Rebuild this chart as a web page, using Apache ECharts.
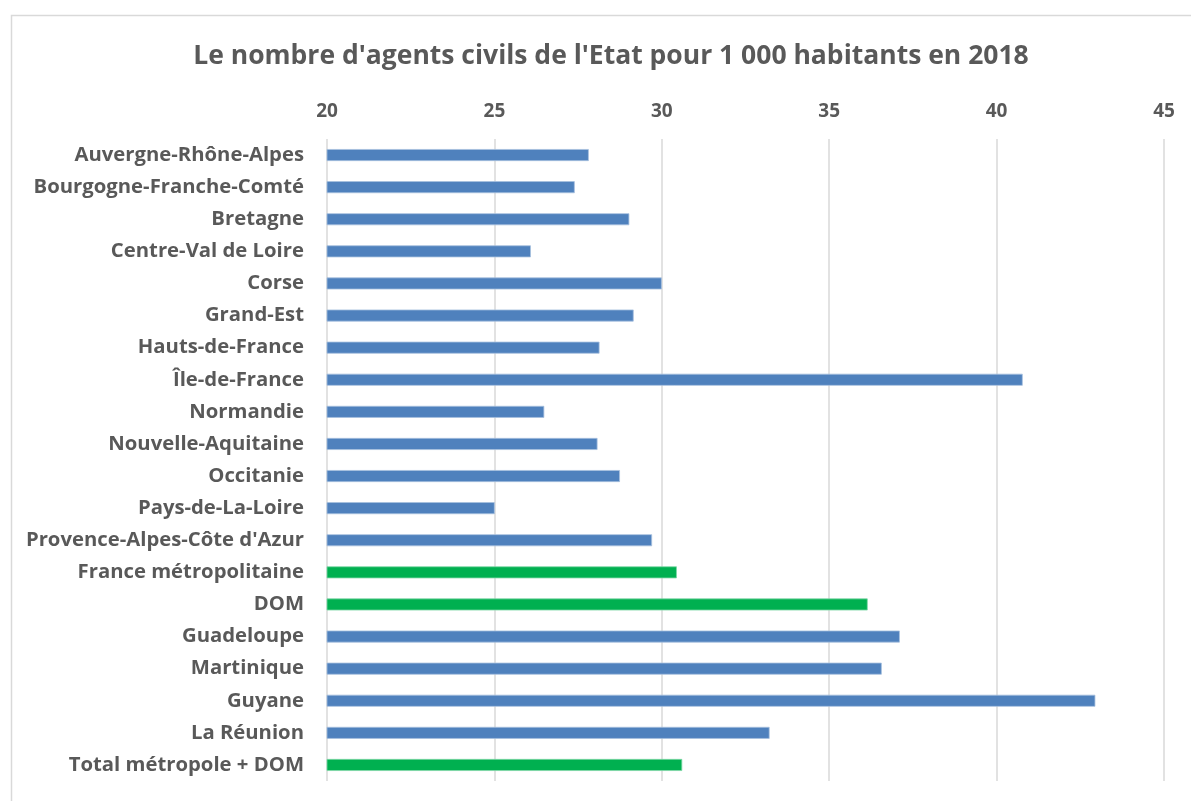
<!DOCTYPE html>
<html>
<head>
<meta charset="utf-8">
<script src="https://cdn.jsdelivr.net/npm/echarts@6/dist/echarts.min.js"></script>
<style>
html,body{margin:0;padding:0;background:#fff;}
#chart{width:1191px;height:801px;}
</style>
</head>
<body>
<div id="chart"></div>
<script>
const titleText = "Le nombre d'agents civils de l'Etat pour 1 000 habitants en 2018";
const categories = [
  "Auvergne-Rhône-Alpes", "Bourgogne-Franche-Comté", "Bretagne", "Centre-Val de Loire",
  "Corse", "Grand-Est", "Hauts-de-France", "Île-de-France", "Normandie",
  "Nouvelle-Aquitaine", "Occitanie", "Pays-de-La-Loire", "Provence-Alpes-Côte d'Azur",
  "France métropolitaine", "DOM", "Guadeloupe", "Martinique", "Guyane", "La Réunion",
  "Total métropole + DOM"
];
const values = [
  27.82, 27.40, 29.03, 26.09,
  30.00, 29.16, 28.14, 40.78, 26.49,
  28.08, 28.75, 25.01, 29.71,
  30.45, 36.15, 37.11, 36.57, 42.95, 33.22,
  30.61
];
const aggregateCategories = ["France métropolitaine", "DOM", "Total métropole + DOM"];
const axisMin = 20, axisMax = 45, axisStep = 5;

const BLUE = '#4F81BD', GREEN = '#00B050', TEXT = '#595959';
const FONT = '"Open Sans", "DejaVu Sans", sans-serif';

const chart = echarts.init(document.getElementById('chart'), null, {renderer: 'canvas'});
const seriesData = categories.map((c, i) => ({
  value: values[i],
  itemStyle: {
    color: aggregateCategories.includes(c) ? GREEN : BLUE,
    borderColor: aggregateCategories.includes(c) ? '#7fd8a7' : '#a7c0de',
    borderWidth: 0.8
  }
}));

chart.setOption({
  animation: false,
  backgroundColor: '#fff',
  graphic: [{
    type: 'rect', left: 9, top: 13,
    shape: {width: 1200, height: 800},
    style: {fill: 'none', stroke: '#d9d9d9', lineWidth: 1.5},
    silent: true, z: -1
  }],
  title: {
    text: titleText,
    left: 606, top: 38, textAlign: 'center',
    textStyle: {color: TEXT, fontFamily: FONT, fontWeight: 'bold', fontSize: 26.5}
  },
  grid: {left: 327, right: 27, top: 139, bottom: 20, containLabel: false},
  xAxis: {
    type: 'value', position: 'top',
    min: axisMin, max: axisMax, interval: axisStep,
    axisLine: {show: false}, axisTick: {show: false},
    axisLabel: {color: TEXT, fontFamily: FONT, fontWeight: 'bold', fontSize: 19, margin: 18},
    splitLine: {show: true, lineStyle: {color: '#d9d9d9', width: 1.5}}
  },
  yAxis: {
    type: 'category', inverse: true, data: categories,
    axisLine: {show: false}, axisTick: {show: false},
    axisLabel: {color: TEXT, fontFamily: FONT, fontWeight: 'bold', fontSize: 20.3, margin: 23}
  },
  series: [{
    type: 'bar', data: seriesData, barWidth: 12
  }]
});
</script>
</body>
</html>
